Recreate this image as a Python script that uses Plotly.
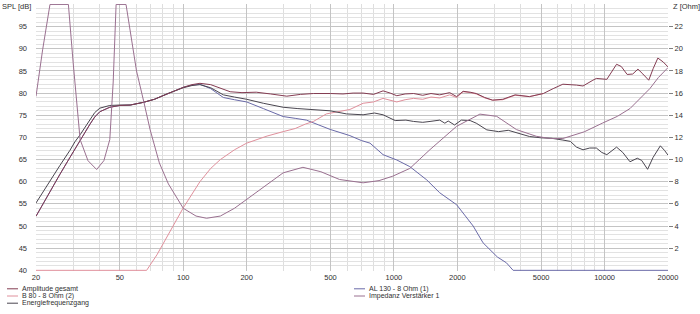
import plotly.graph_objects as go

# ---------------- data ----------------
freq_total = [20, 23.3, 26, 29, 30.6, 32.4, 34.2, 36.1, 38, 40.2, 44.8, 50, 56, 64.6, 73, 83.4,
              100, 110, 120, 135, 150, 167, 190, 222, 260, 310, 360, 415, 500, 573, 640, 714,
              800, 888, 960, 1032, 1130, 1240, 1370, 1500, 1650, 1840, 1985, 2130, 2300, 2460,
              2700, 2940, 3290, 3760, 4400, 5120, 5700, 6340, 7360, 7900, 8800, 9140, 10250,
              11400, 12000, 12800, 13600, 14400, 15200, 16200, 17000, 17900, 19000, 20000]
spl_total = [52.2, 57.9, 61.7, 65.5, 67.4, 69.4, 71.2, 73.0, 74.6, 75.8, 76.8, 77.2, 77.3, 77.9, 78.6, 79.8,
             81.3, 81.9, 82.2, 81.9, 81.1, 80.3, 80.1, 80.2, 79.8, 79.3, 79.7, 79.9, 79.9, 79.8, 80.0, 80.0,
             79.7, 80.5, 80.0, 79.4, 79.8, 79.9, 79.5, 79.9, 79.6, 80.1, 79.2, 80.4, 80.2, 79.9,
             79.0, 78.4, 78.6, 79.6, 79.2, 79.9, 81.0, 82.0, 81.8, 81.6, 82.9, 83.3, 83.1,
             86.5, 86.0, 84.2, 84.3, 85.4, 84.3, 82.9, 85.5, 87.9, 87.0, 85.9]

freq_energy = [20, 23.3, 26, 29, 30.6, 32.4, 34.2, 36.1, 38, 40.2, 44.8, 50, 56, 64.6, 73, 83.4,
               100, 110, 120, 135, 155, 175, 200, 240, 298, 350, 415, 470, 498, 595, 714, 809,
               888, 1014, 1140, 1240, 1370, 1484, 1650, 1745, 1810, 1940, 2090, 2300, 2460, 2760,
               3140, 3490, 4000, 4400, 5000, 5600, 6340, 6880, 7360, 7900, 8500, 9140, 9700,
               10250, 11400, 12200, 13200, 14300, 15000, 16000, 17000, 18400, 19300, 20000]
spl_energy = [55.2, 60.3, 63.7, 67.1, 69.0, 70.6, 72.2, 74.0, 75.6, 76.6, 77.2, 77.3, 77.3, 77.9, 78.6, 79.8,
              81.2, 81.7, 81.9, 81.2, 79.6, 79.1, 78.6, 77.7, 76.8, 76.5, 76.3, 76.2, 76.0, 75.3, 75.1, 75.5,
              75.1, 73.8, 73.9, 73.6, 73.4, 73.6, 73.9, 73.2, 73.7, 72.8, 73.9, 73.8, 73.2, 71.7,
              71.3, 71.6, 70.8, 70.2, 69.9, 69.8, 69.4, 69.1, 67.8, 67.2, 67.6, 67.6, 66.6,
              66.1, 67.8, 66.6, 64.5, 65.3, 64.8, 62.8, 65.5, 68.1, 67.0, 66.0]

freq_woofer = [20, 23.3, 26, 29, 30.6, 32.4, 34.2, 36.1, 38, 40.2, 44.8, 50, 56, 64.6, 73, 83.4,
               100, 110, 120, 135, 155, 175, 200, 240, 298, 340, 384, 440, 498, 618, 700, 770,
               888, 1032, 1190, 1432, 1650, 1985, 2200, 2378, 2650, 2840, 3100, 3420, 3680,
               5000, 10000, 20000]
spl_woofer = [52.2, 57.9, 61.7, 65.5, 67.4, 69.4, 71.2, 73.0, 74.6, 75.8, 76.8, 77.2, 77.3, 77.9, 78.6, 79.8,
              81.3, 81.8, 82.0, 81.0, 79.0, 78.5, 78.0, 76.5, 74.7, 74.3, 73.9, 72.8, 71.8, 70.4, 69.3, 68.7,
              66.1, 64.9, 63.4, 60.4, 57.5, 54.8, 52.2, 50.0, 46.2, 44.7, 43.0, 41.7, 40.0,
              40.0, 40.0, 40.0]

freq_tweeter = [20, 40, 67, 75, 85, 100, 120, 135, 150, 175, 200, 250, 298, 340, 380, 415, 478,
                540, 618, 714, 800, 888, 960, 1032, 1130, 1240, 1370, 1500, 1650, 1840, 1985,
                2130, 2300, 2460, 2700, 2940, 3290, 3760, 4400, 5120]
spl_tweeter = [40.0, 40.0, 40.0, 43.5, 48.0, 54.1, 60.0, 63.0, 65.0, 67.2, 68.7, 70.3, 71.3, 72.0, 73.0, 73.6, 75.3,
               75.8, 76.3, 77.7, 78.0, 78.8, 78.3, 78.0, 78.5, 78.8, 78.6, 79.1, 78.9, 79.6, 79.0,
               80.3, 80.1, 79.8, 78.9, 78.4, 78.5, 79.5, 79.2, 79.9]

freq_imp = [20, 21.5, 23.3, 26, 28.5, 30, 32.4, 35.3, 38.8, 42, 44.8, 46.5, 48.0, 53.5, 60, 65,
            69.6, 77, 85, 100, 115, 129, 150, 175, 200, 250, 298, 370, 450, 552, 714, 850, 988,
            1190, 1484, 1985, 2560, 3075, 3820, 4740, 5500, 6340, 8000, 9800, 11500, 13200,
            14800, 16400, 18000, 20000]
ohm_imp = [15.7, 19.9, 24.0, 24.0, 24.0, 18.8, 11.8, 9.9, 9.1, 9.9, 11.8, 17.0, 24.0, 24.0, 18.0, 15.2,
           12.7, 9.7, 7.8, 5.6, 4.9, 4.7, 4.9, 5.6, 6.4, 7.8, 8.8, 9.3, 8.9, 8.2, 7.9, 8.1, 8.5,
           9.2, 10.9, 13.0, 14.1, 13.9, 12.7, 12.1, 11.9, 11.9, 12.5, 13.3, 13.9, 14.6,
           15.5, 16.4, 17.4, 18.3]

x_tick_vals = [20, 50, 100, 200, 500, 1000, 2000, 5000, 10000, 20000]
x_tick_text = ["20", "50", "100", "200", "500", "1000", "2000", "5000", "10000", "20000"]
y_ticks = [40, 45, 50, 55, 60, 65, 70, 75, 80, 85, 90, 95]
z_ticks = [2, 4, 6, 8, 10, 12, 14, 16, 18, 20, 22]

names = ["Amplitude gesamt", "B 80 - 8 Ohm (2)", "Energiefrequenzgang",
         "AL 130 - 8 Ohm (1)", "Impedanz Verstärker 1"]

# ---------------- styling ----------------
C_TOTAL = "#843c52"
C_TWEET = "#e0909c"
C_ENERGY = "#4a4650"
C_WOOF = "#6a6aa8"
C_IMP = "#9a7090"

W, H = 700, 314
L, R, T, B = 36, 668, 4, 271
FONT = "Liberation Sans"
FS = 7.5

x_minor = []
for dec in [10, 100, 1000, 10000]:
    for m in range(1, 10):
        v = m * dec
        if 20 <= v <= 20000 and v not in x_tick_vals:
            x_minor.append(v)

fig = go.Figure()
fig.add_trace(go.Scatter(x=freq_imp, y=ohm_imp, yaxis="y2", mode="lines",
                         line=dict(color=C_IMP, width=1), name=names[4]))
fig.add_trace(go.Scatter(x=freq_woofer, y=spl_woofer, mode="lines",
                         line=dict(color=C_WOOF, width=1), name=names[3]))
fig.add_trace(go.Scatter(x=freq_tweeter, y=spl_tweeter, mode="lines",
                         line=dict(color=C_TWEET, width=1), name=names[1]))
fig.add_trace(go.Scatter(x=freq_energy, y=spl_energy, mode="lines",
                         line=dict(color=C_ENERGY, width=1), name=names[2]))
fig.add_trace(go.Scatter(x=freq_total, y=spl_total, mode="lines",
                         line=dict(color=C_TOTAL, width=1), name=names[0]))


def px(xp):
    return (xp - L) / (R - L)


def py(yp):
    return (B - yp) / (B - T)


shapes = []
annotations = []
# legend (manual, compact like the reference)
legend_items = [
    (names[0], C_TOTAL, 7, 288.8),
    (names[1], C_TWEET, 7, 296.0),
    (names[2], C_ENERGY, 7, 303.2),
    (names[3], C_WOOF, 354, 288.8),
    (names[4], C_IMP, 354, 296.0),
]
for txt, col, x0, yy in legend_items:
    shapes.append(dict(type="line", xref="paper", yref="paper",
                       x0=px(x0), x1=px(x0 + 11), y0=py(yy), y1=py(yy),
                       line=dict(color=col, width=1)))
    annotations.append(dict(text=txt, xref="paper", yref="paper", x=px(x0 + 13), y=py(yy),
                            xanchor="left", yanchor="middle", showarrow=False,
                            font=dict(family=FONT, size=7, color="#303030")))

annotations.append(dict(text="SPL [dB]", xref="paper", yref="paper", x=px(33), y=py(6),
                        xanchor="right", yanchor="middle", showarrow=False,
                        font=dict(family=FONT, size=FS, color="#303030")))
annotations.append(dict(text="Z [Ohm]", xref="paper", yref="paper", x=px(671), y=py(6),
                        xanchor="left", yanchor="middle", showarrow=False,
                        font=dict(family=FONT, size=FS, color="#303030")))

fig.update_layout(
    width=W, height=H,
    margin=dict(l=L, r=W - R, t=T, b=H - B, pad=0),
    paper_bgcolor="white", plot_bgcolor="white",
    showlegend=False,
    font=dict(family=FONT, size=FS, color="#303030"),
    xaxis=dict(type="log", range=[1.30103, 4.30103],
               tickvals=x_tick_vals, ticktext=x_tick_text, ticks="", ticklabelstandoff=0,
               showgrid=True, gridcolor="#c4c4c4", gridwidth=1,
               minor=dict(tickvals=x_minor, showgrid=True, gridcolor="#dedede", gridwidth=1, ticks=""),
               showline=False, zeroline=False, tickfont=dict(size=FS)),
    yaxis=dict(range=[39.85, 100.1], tickvals=y_ticks, ticks="", ticklabelstandoff=8,
               showgrid=True, gridcolor="#c4c4c4", gridwidth=1,
               minor=dict(dtick=1, tick0=40, showgrid=True, gridcolor="#e2e2e2", gridwidth=1, ticks=""),
               showline=False, zeroline=False, tickfont=dict(size=FS)),
    yaxis2=dict(range=[-0.06, 24.04], overlaying="y", side="right", tickvals=z_ticks,
                ticks="outside", ticklen=4, tickcolor="#808080", showgrid=False,
                zeroline=False, showline=False, tickfont=dict(size=FS)),
    shapes=shapes, annotations=annotations,
)

fig.write_html("out.html")
